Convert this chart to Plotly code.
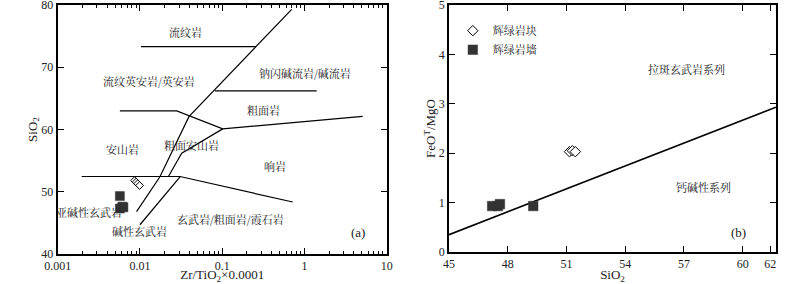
import math
import plotly.graph_objects as go

# ---------------- data: panel (a) Zr/TiO2 vs SiO2 ----------------
rhy_x = [0.0103, 0.258]
rhy_y = [73.3, 73.3]
com_x = [0.0816, 1.41]
com_y = [66.2, 66.2]
and_x = [0.0057, 0.028, 0.1014, 5.1]
and_y = [63.0, 63.0, 60.1, 62.1]
lineA_x = [0.70, 0.0394, 0.0175, 0.0091]
lineA_y = [79.3, 62.06, 52.4, 46.8]
lineB_up_x = [0.1014, 0.0322, 0.0221]
lineB_up_y = [60.1, 56.2, 52.4]
lineB_low_x = [0.0307, 0.0100]
lineB_low_y = [52.4, 44.7]
bas_x = [0.00196, 0.0307, 0.72]
bas_y = [52.45, 52.45, 48.35]

a_dia_x = [0.0086, 0.0090, 0.0094, 0.0099]
a_dia_y = [51.8, 51.55, 51.3, 51.0]
a_sq_x = [0.0057, 0.0057, 0.0061, 0.0063]
a_sq_y = [49.3, 47.3, 47.6, 47.5]

a_xticks = [0.001, 0.01, 0.1, 1, 10]
a_xticktext = ["0.001", "0.01", "0.1", "1", "10"]
a_yticks = [40, 50, 60, 70, 80]

a_labels = [
    ("流纹岩", 0.036, 75.6),
    ("流纹英安岩/英安岩", 0.0129, 67.8),
    ("钠闪碱流岩/碱流岩", 1.02, 69.0),
    ("粗面岩", 0.316, 63.1),
    ("安山岩", 0.0061, 56.8),
    ("粗面安山岩", 0.0426, 57.5),
    ("响岩", 0.438, 54.1),
    ("亚碱性玄武岩", 0.0024, 46.75),
    ("碱性玄武岩", 0.0100, 43.65),
    ("玄武岩/粗面岩/霞石岩", 0.127, 45.67),
]

# ---------------- data: panel (b) SiO2 vs FeOT/MgO ----------------
th_x = [45, 61.7]
th_y = [0.35, 2.93]
b_dia_x = [51.15, 51.3, 51.45]
b_dia_y = [2.03, 2.05, 2.03]
b_sq_x = [47.2, 47.5, 47.6, 49.3]
b_sq_y = [0.93, 0.93, 0.97, 0.93]

b_xticks = [45, 48, 51, 54, 57, 60, 61.4]
b_xticktext = ["45", "48", "51", "54", "57", "60", "62"]
b_yticks = [0, 1, 2, 3, 4, 5]

b_labels = [
    ("拉斑玄武岩系列", 57.14, 3.71),
    ("钙碱性系列", 57.99, 1.31),
]

series_names = ["辉绿岩块", "辉绿岩墙"]

SERIF = "Liberation Serif, Times New Roman, serif"
CJK = "Noto Serif CJK SC, Noto Sans CJK SC, sans-serif"
INK = "#222"

fig = go.Figure()

line_style = dict(color="black", width=1.2)
for xs, ys in [(rhy_x, rhy_y), (com_x, com_y), (and_x, and_y), (lineA_x, lineA_y),
               (lineB_up_x, lineB_up_y), (lineB_low_x, lineB_low_y), (bas_x, bas_y)]:
    fig.add_trace(go.Scatter(x=xs, y=ys, mode="lines", line=line_style,
                             showlegend=False, hoverinfo="skip", xaxis="x", yaxis="y"))

fig.add_trace(go.Scatter(x=a_sq_x, y=a_sq_y, mode="markers", xaxis="x", yaxis="y",
                         marker=dict(symbol="square", size=9, color="#333",
                                     line=dict(color="#333", width=0.5)),
                         showlegend=False))
fig.add_trace(go.Scatter(x=a_dia_x, y=a_dia_y, mode="markers", xaxis="x", yaxis="y",
                         marker=dict(symbol="diamond", size=6, color="white",
                                     line=dict(color="black", width=1)),
                         showlegend=False))

fig.add_trace(go.Scatter(x=th_x, y=th_y, mode="lines", line=dict(color="black", width=1.6),
                         showlegend=False, hoverinfo="skip", xaxis="x2", yaxis="y2"))
fig.add_trace(go.Scatter(x=b_dia_x, y=b_dia_y, mode="markers", xaxis="x2", yaxis="y2",
                         name=series_names[0],
                         marker=dict(symbol="diamond", size=8, color="white",
                                     line=dict(color="black", width=1))))
fig.add_trace(go.Scatter(x=b_sq_x, y=b_sq_y, mode="markers", xaxis="x2", yaxis="y2",
                         name=series_names[1],
                         marker=dict(symbol="square", size=9.5, color="#333",
                                     line=dict(color="#333", width=0.5))))

axis_common = dict(showline=True, linecolor="black", linewidth=2, mirror="allticks",
                   ticks="inside", ticklen=6, tickwidth=1, tickcolor="black",
                   showgrid=False, zeroline=False, automargin=False,
                   ticklabeloverflow="allow",
                   tickfont=dict(family=SERIF, size=12, color=INK))

minor_vals = [m * 10 ** e for e in range(-3, 1) for m in range(2, 10)]

fig.update_layout(
    width=800, height=284,
    margin=dict(l=0, r=0, t=0, b=0),
    paper_bgcolor="white", plot_bgcolor="white",
    xaxis=dict(axis_common, type="log", range=[-3, 1], domain=[0.0721, 0.4834], anchor="y",
               tickvals=a_xticks, ticktext=a_xticktext,
               minor=dict(tickvals=minor_vals, ticks="inside", ticklen=3, tickcolor="black"),
               title=dict(text="Zr/TiO<sub>2</sub>×0.0001", standoff=4,
                          font=dict(family=SERIF, size=13, color=INK))),
    yaxis=dict(axis_common, range=[40, 80], domain=[0.1056, 0.9824], anchor="x",
               tickvals=a_yticks,
               title=dict(text="SiO<sub>2</sub>", standoff=1,
                          font=dict(family=SERIF, size=13, color=INK))),
    xaxis2=dict(axis_common, range=[45, 61.7], domain=[0.5613, 0.97], anchor="y2",
                tickvals=b_xticks, ticktext=b_xticktext,
                title=dict(text="SiO<sub>2</sub>", standoff=4,
                           font=dict(family=SERIF, size=13, color=INK))),
    yaxis2=dict(axis_common, range=[0, 5], domain=[0.1127, 0.9824], anchor="x2",
                tickvals=b_yticks,
                title=dict(text="FeO<sup>T</sup>/MgO", standoff=0,
                           font=dict(family=SERIF, size=13, color=INK))),
    showlegend=True,
    legend=dict(x=0.566, y=0.943, xanchor="left", yanchor="top",
                bgcolor="rgba(0,0,0,0)", tracegroupgap=0,
                font=dict(family=CJK, size=11, color=INK)),
)

for text, x, y in a_labels:
    fig.add_annotation(text=text, x=math.log10(x), y=y, xref="x", yref="y", showarrow=False,
                       font=dict(family=CJK, size=11, color=INK))
fig.add_annotation(text="(a)", x=math.log10(4.44), y=43.4, xref="x", yref="y", showarrow=False,
                   font=dict(family=SERIF, size=13, color=INK))

for text, x, y in b_labels:
    fig.add_annotation(text=text, x=x, y=y, xref="x2", yref="y2", showarrow=False,
                       font=dict(family=CJK, size=11, color=INK))
fig.add_annotation(text="(b)", x=59.78, y=0.40, xref="x2", yref="y2", showarrow=False,
                   font=dict(family=SERIF, size=13, color=INK))

fig.write_html("out.html", config={"displayModeBar": False},
               post_script="document.body.style.margin='0';")
